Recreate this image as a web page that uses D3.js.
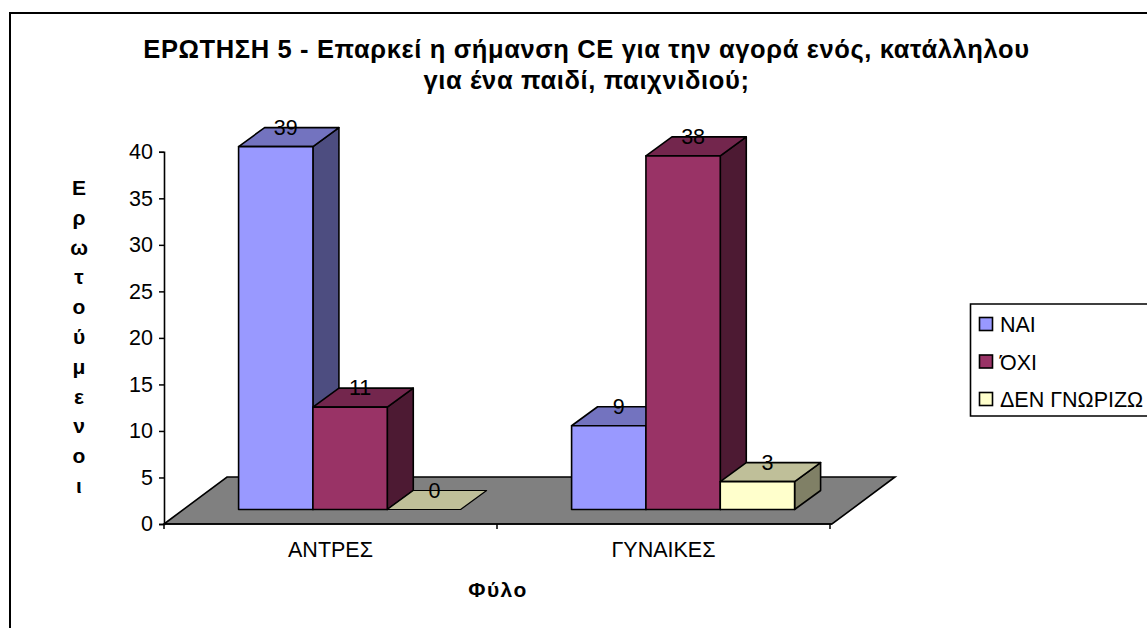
<!DOCTYPE html>
<html><head><meta charset="utf-8">
<script src="https://cdn.jsdelivr.net/npm/d3@7/dist/d3.min.js"></script>
<style>
html,body{margin:0;padding:0;background:#fff;overflow:hidden}
svg{display:block}
text{font-family:"Liberation Sans",Arial,sans-serif;fill:#000}
</style></head><body>
<svg id="c" width="1147" height="628"></svg>
<script>
const titleLines = ["ΕΡΩΤΗΣΗ 5 - Επαρκεί η σήμανση CE για την αγορά ενός, κατάλληλου","για ένα παιδί, παιχνιδιού;"];
const yTitleLetters = ["Ε","ρ","ω","τ","ο","ύ","μ","ε","ν","ο","ι"];
const xTitle = "Φύλο";
const categories = ["ΑΝΤΡΕΣ","ΓΥΝΑΙΚΕΣ"];
const seriesNames = ["ΝΑΙ","ΌΧΙ","ΔΕΝ ΓΝΩΡΙΖΩ"];
const valuesNai = [39,9];
const valuesOxi = [11,38];
const valuesDk = [0,3];
const yTicks = [0,5,10,15,20,25,30,35,40];
const seriesValues = [valuesNai,valuesOxi,valuesDk];
const front = ["#9999ff","#993366","#ffffcc"];
const topC = ["#7373bf","#73264d","#bfbf99"];
const sideC = ["#4d4d80","#4d1a33","#808066"];

const svg = d3.select("#c");
// frame
svg.append("path").attr("d","M1147 13H10V628").attr("fill","none").attr("stroke","#000").attr("stroke-width",2);

// titles
svg.append("g").selectAll("text").data(titleLines).join("text")
  .attr("x",586.5).attr("y",(d,i)=>58+i*31).attr("text-anchor","middle")
  .attr("font-size",25.5).attr("letter-spacing",0.63).attr("font-weight","bold").text(d=>d);

const y = d3.scaleLinear().domain([0,40]).range([524,151.8]);
const x0 = d3.scaleBand().domain(categories).range([164,830]);
const x1 = d3.scaleBand().domain(d3.range(3)).range([55,278]);
const floorDepth = {dx:63,dy:-47}, barShift = {dx:19.6,dy:-14.5}, barDepth = {dx:26,dy:-19};

// floor
const yb = y(0);
svg.append("path")
  .attr("d",`M164 ${yb}L${164+floorDepth.dx} ${yb+floorDepth.dy}H${830+floorDepth.dx+2}L832 ${yb}Z`)
  .attr("fill","#808080").attr("stroke","#000").attr("stroke-width",1.6).attr("stroke-linejoin","miter");

// axes
const yAxis = d3.axisLeft(y).tickValues(yTicks).tickSize(5).tickPadding(6);
const gy = svg.append("g").attr("transform","translate(164,0)").call(yAxis);
const xAxis = d3.axisBottom(x0).tickSize(0).tickPadding(18);
const gx = svg.append("g").attr("transform",`translate(0,${yb})`).call(xAxis);
gx.selectAll(".tick line").remove();
gx.selectAll(".tick-edge").data([164,497,830]).join("line").attr("class","tick-edge")
  .attr("x1",d=>d).attr("x2",d=>d).attr("y1",0).attr("y2",5).attr("stroke","#000").attr("stroke-width",1.5);
[gy,gx].forEach(g=>{
  g.selectAll(".domain").attr("stroke","#000").attr("stroke-width",1.6);
  g.selectAll(".tick text").attr("font-size",21.5).attr("font-family",'"Liberation Sans",Arial,sans-serif').attr("fill","#000");
  g.selectAll(".tick line").attr("stroke","#000").attr("stroke-width",1.5);
});
gx.selectAll(".domain").attr("d","M164 0H832");

// bars, drawn back-to-front left-to-right
const barsData = [];
categories.forEach((c,ci)=>seriesValues.forEach((vals,si)=>barsData.push({c,si,v:vals[ci]})));
const w = x1.bandwidth();
const g = svg.append("g").attr("stroke","#000").attr("stroke-width",1.6).attr("stroke-linejoin","round");
barsData.forEach(d=>{
  const l = x0(d.c)+x1(d.si)+barShift.dx, r = l+w;
  const b = y(0)+barShift.dy, t = y(d.v)+barShift.dy;
  const dx = barDepth.dx, dy = barDepth.dy;
  if(d.v>0){
    g.append("path").attr("d",`M${r} ${b}V${t}L${r+dx} ${t+dy}V${b+dy}Z`).attr("fill",sideC[d.si]);
    g.append("path").attr("d",`M${l} ${t}L${l+dx} ${t+dy}H${r+dx}L${r} ${t}Z`).attr("fill",topC[d.si]);
    g.append("rect").attr("x",l).attr("y",t).attr("width",w).attr("height",b-t).attr("fill",front[d.si]);
  } else {
    g.append("path").attr("d",`M${l} ${t}L${l+dx} ${t+dy}H${r+dx-1}L${r-1} ${t}Z`).attr("fill",topC[d.si]).attr("stroke-width",1.2);
  }
});
// value labels
svg.append("g").selectAll("text").data(barsData).join("text")
  .attr("x",d=>x0(d.c)+x1(d.si)+barShift.dx+w/2+10)
  .attr("y",d=>y(d.v)+barShift.dy+barDepth.dy+7)
  .attr("text-anchor","middle").attr("font-size",21.5).text(d=>d.v);

// axis titles
svg.append("g").selectAll("text").data(yTitleLetters).join("text")
  .attr("x",79).attr("y",(d,i)=>195+i*29.8).attr("text-anchor","middle")
  .attr("font-size",21).attr("font-weight","bold").text(d=>d);
svg.append("text").attr("x",498).attr("y",597).attr("text-anchor","middle")
  .attr("font-size",21).attr("font-weight","bold").attr("letter-spacing",1.5).text(xTitle);

// legend
svg.append("path").attr("d","M1147 304H970.5V416H1147").attr("fill","#fff").attr("stroke","#000").attr("stroke-width",1.6);
const ly = d3.scalePoint().domain(seriesNames).range([324,399]);
const lg = svg.append("g").selectAll("g").data(seriesNames).join("g").attr("transform",d=>`translate(0,${ly(d)})`);
lg.append("rect").attr("x",979.5).attr("y",-6.5).attr("width",13).attr("height",13)
  .attr("fill",(d,i)=>front[i]).attr("stroke","#000").attr("stroke-width",1.6);
lg.append("text").attr("x",1000).attr("y",8).attr("font-size",21.5).text(d=>d);
</script>
</body></html>
